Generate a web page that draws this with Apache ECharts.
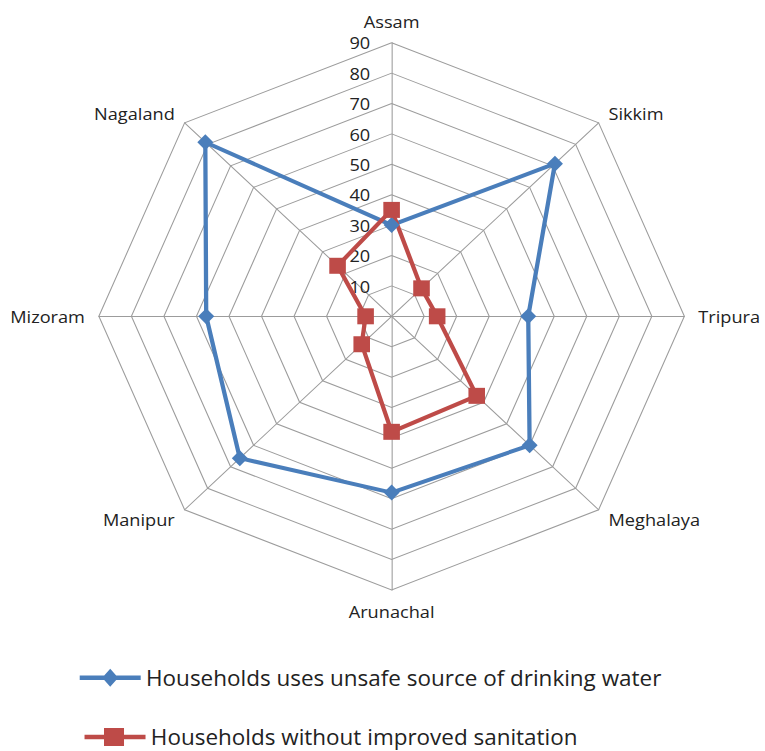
<!DOCTYPE html>
<html>
<head>
<meta charset="utf-8">
<script src="https://cdn.jsdelivr.net/npm/echarts@6/dist/echarts.min.js"></script>
<style>
  html, body { margin: 0; padding: 0; background: #fff; overflow: hidden; }
  /* The radar is drawn a little wider than tall: render narrower, then stretch horizontally */
  #chart { width: 715px; height: 751px; transform: scaleX(1.07); transform-origin: 0 0; }
</style>
</head>
<body>
<div id="chart"></div>
<script>
// States listed clockwise from the top
const states = ['Assam', 'Sikkim', 'Tripura', 'Meghalaya', 'Arunachal', 'Manipur', 'Mizoram', 'Nagaland'];
const unsafeWater = [30, 71, 42, 60, 58, 66, 57, 81];
const noSanitation = [35, 13, 14, 37, 38, 13, 8, 23.5];
const seriesNames = ['Households uses unsafe source of drinking water', 'Households without improved sanitation'];
const axisMax = 90;
const axisStep = 10;

// ECharts places indicators counter-clockwise, so walk the list backwards after the first one
const order = [0].concat(states.map((_, i) => i).slice(1).reverse());
const pick = arr => order.map(i => arr[i]);

const BLUE = '#4a7ebb';
const RED = '#be4b48';
const INK = '#222';
const GRID = '#9c9c9c';
const FONT = "'Open Sans', 'Noto Sans', sans-serif";

// Legend keys: a line with the series marker in the middle
const diamondKey = 'path://M0,6.75L22.9,6.75L28.5,0L34.1,6.75L57,6.75L57,11.25L34.1,11.25L28.5,18L22.9,11.25L0,11.25Z';
const squareKey = 'path://M0,6.75L18.2,6.75L18.2,0L36.9,0L36.9,6.75L57,6.75L57,11.25L36.9,11.25L36.9,18L18.2,18L18.2,11.25L0,11.25Z';

function legendRow(name, icon, left, top) {
  return {
    orient: 'vertical',
    left: left,
    top: top,
    padding: 0,
    itemWidth: 57,
    itemHeight: 18,
    selectedMode: false,
    textStyle: { color: INK, fontSize: 21, lineHeight: 24, fontFamily: FONT },
    data: [{ name: name, icon: icon }]
  };
}

const chart = echarts.init(document.getElementById('chart'), null, { renderer: 'svg' });

chart.setOption({
  animation: false,
  textStyle: { fontFamily: FONT },
  radar: {
    center: [366, 316.3],
    radius: 273.6,
    startAngle: 90,
    shape: 'polygon',
    splitNumber: axisMax / axisStep,
    indicator: pick(states).map((s, k) => {
      const ind = { name: s, min: 0, max: axisMax };
      if (k === 0) ind.axisLabel = { show: true };
      return ind;
    }),
    axisName: { color: INK, fontSize: 17, fontFamily: FONT },
    nameGap: 13,
    axisLine: { lineStyle: { color: GRID, width: 1 } },
    splitLine: { lineStyle: { color: GRID, width: 1 } },
    splitArea: { show: false },
    axisTick: { show: false },
    axisLabel: { show: false, color: INK, fontSize: 17, fontFamily: FONT, margin: 20 }
  },
  legend: [
    legendRow(seriesNames[0], diamondKey, 74.5, 665.7),
    legendRow(seriesNames[1], squareKey, 79, 725)
  ],
  series: [{
    type: 'radar',
    data: [
      {
        name: seriesNames[0],
        value: pick(unsafeWater),
        symbol: 'diamond',
        symbolSize: [15, 16],
        lineStyle: { color: BLUE, width: 4 },
        itemStyle: { color: BLUE }
      },
      {
        name: seriesNames[1],
        value: pick(noSanitation),
        symbol: 'rect',
        symbolSize: [15.5, 16],
        lineStyle: { color: RED, width: 4 },
        itemStyle: { color: RED }
      }
    ]
  }]
});
</script>
</body>
</html>
